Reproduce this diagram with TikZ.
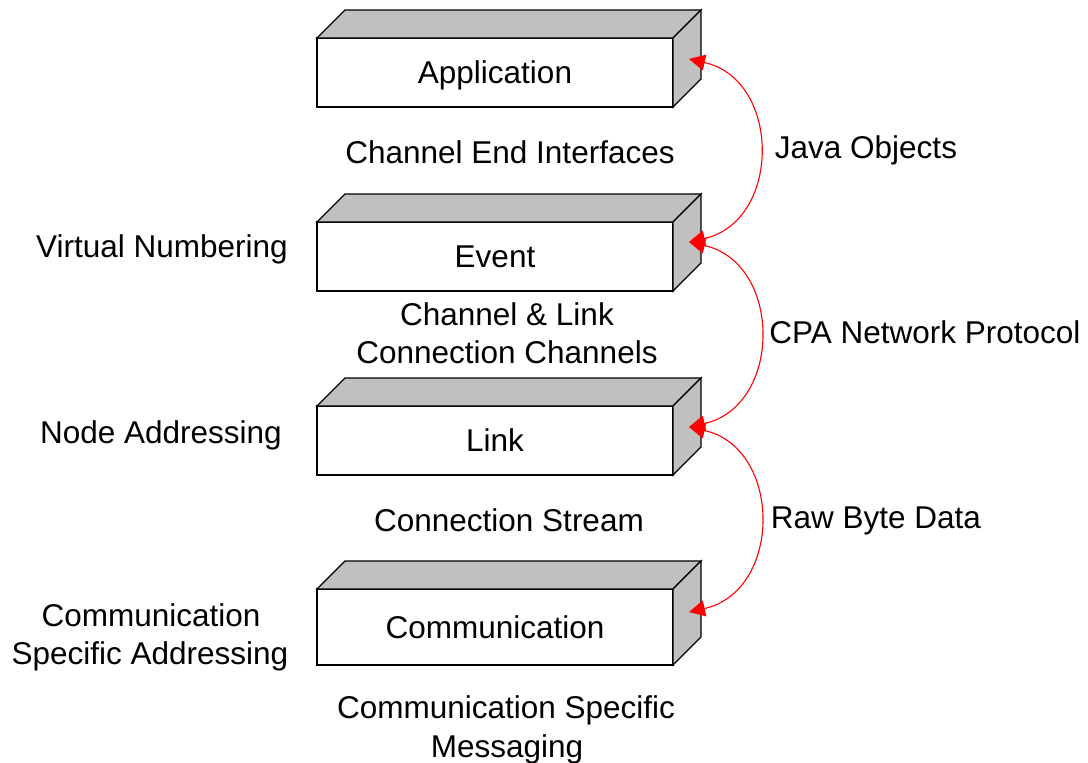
\documentclass[tikz,border=0pt]{standalone}
\usepackage{fontspec}
\setmainfont{Liberation Sans}
\usetikzlibrary{arrows.meta}
\definecolor{boxgray}{HTML}{C0C0C0}
\definecolor{arrred}{HTML}{FF0000}
\begin{document}
\begin{tikzpicture}[x=1pt,y=1pt,
  every node/.style={font=\fontsize{31.5}{38.5}\selectfont, inner sep=0pt, outer sep=0pt},
  frontbox/.style={draw=black, line width=1.3pt, fill=white, minimum width=356pt, text height=22.5pt, text depth=0pt},
  facebox/.style={draw=black, line width=1.3pt, fill=boxgray, line join=miter},
  lbl/.style={anchor=base},
  link/.style={draw=arrred, line width=1.1pt, {Triangle[length=16pt,width=16pt]}-{Triangle[length=16pt,width=16pt]}, looseness=1.33}
]
\useasboundingbox (0,0) rectangle (1088,-763);

% boxes
\newcommand{\layerbox}[4]{%
  \node[frontbox, minimum height=#3] (#1) at (495,#2) {#4};
  \draw[facebox] (#1.north west) -- ++(28,28) -- ++(356,0) -- (#1.north east) -- cycle;
  \draw[facebox] (#1.north east) -- ++(28,28) -- ++(0,-#3) -- (#1.south east) -- cycle;
}
\layerbox{app}{-72.5}{69pt}{Application}
\layerbox{evt}{-256.5}{69pt}{Event}
\layerbox{lnk}{-440.5}{69pt}{Link}
\layerbox{com}{-627}{76pt}{Communication}

% middle labels
\node[lbl] (cei) at (510,-163) {Channel End Interfaces};
\node[lbl] (cl1) at (507,-325) {Channel \& Link};
\node[lbl] (cl2) at (507,-363) {Connection Channels};
\node[lbl] (cs) at (509,-531) {Connection Stream};
\node[lbl] (csm1) at (506,-718) {Communication Specific};
\node[lbl] (csm2) at (507,-757) {Messaging};

% left labels
\node[lbl] (vn) at (162,-257) {Virtual Numbering};
\node[lbl] (na) at (161,-443) {Node Addressing};
\node[lbl] (csa1) at (151,-626) {Communication};
\node[lbl] (csa2) at (150,-664) {Specific Addressing};

% right labels
\node[lbl] (jo) at (866,-158) {Java Objects};
\node[lbl] (cpa) at (925,-343) {CPA Network Protocol};
\node[lbl] (rbd) at (876,-528) {Raw Byte Data};

% arrow endpoints on side faces
\coordinate (pa) at (689,-59);
\coordinate (pe) at (689,-242);
\coordinate (pl) at (689,-427);
\coordinate (pc) at (689,-612);

\draw[link] (pa) to[out=-12.7,in=12.7] (pe);
\draw[link] (pe) to[out=-12.7,in=12.7] (pl);
\draw[link] (pl) to[out=-12.7,in=12.7] (pc);
\end{tikzpicture}
\end{document}
